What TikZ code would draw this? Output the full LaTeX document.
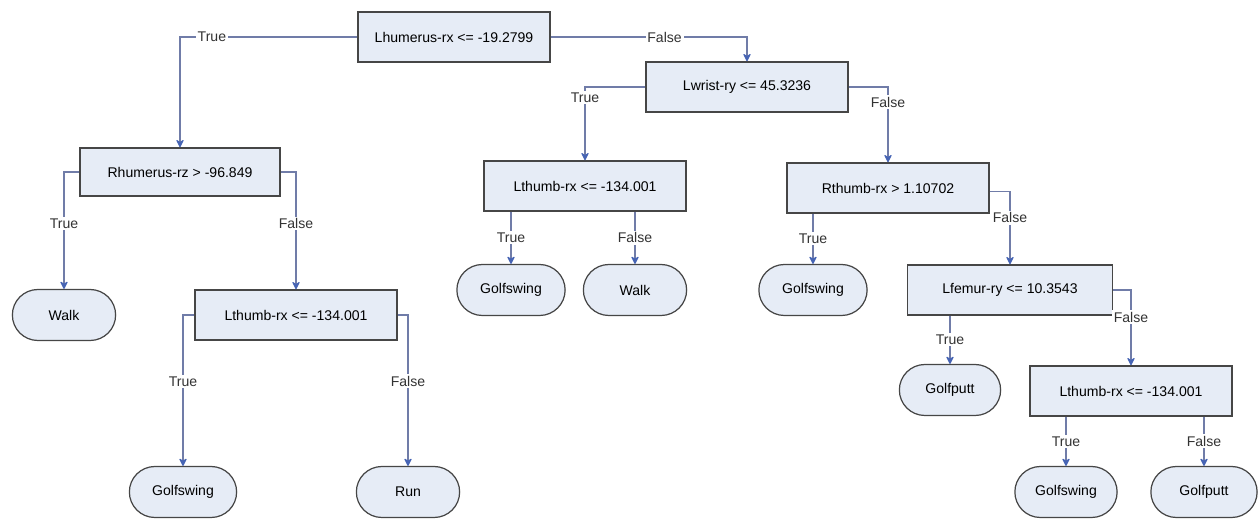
\documentclass[tikz,border=0pt]{standalone}
\usepackage{fontspec}
\setmainfont{Liberation Sans}
\usetikzlibrary{positioning,arrows.meta,shapes.misc}
\definecolor{boxfill}{RGB}{230,236,246}
\definecolor{boxline}{RGB}{70,70,70}
\definecolor{edgecol}{RGB}{112,124,168}
\definecolor{tipcol}{RGB}{70,100,180}

\begin{document}
\begin{tikzpicture}[x=0.02cm,y=-0.02cm,>={Stealth[round,length=5pt,width=5pt,color=tipcol]},
  font=\fontsize{8}{9.6}\selectfont,
  test/.style={rectangle,draw=boxline,line width=0.9pt,fill=boxfill,minimum width=4.04cm,minimum height=1cm},
  leaf/.style={rounded rectangle,draw=boxline,line width=0.7pt,fill=boxfill,minimum width=2.3cm,minimum height=1.02cm},
  cond/.style={fill=white,inner sep=1pt,text=black!80},
  link/.style={->,edgecol,line width=0.6pt}]
  \useasboundingbox (0,0) rectangle (1259,519);
  % decision nodes
  \node[test,minimum width=3.84cm] (root) at (454,37) {Lhumerus-rx <= -19.2799};
  \node[test] (lwrist) at (747,87) {Lwrist-ry <= 45.3236};
  \node[test,minimum width=4cm,minimum height=0.96cm] (rhum) at (180,172) {Rhumerus-rz > -96.849};
  \node[test] (lthumbA) at (296,315) {Lthumb-rx <= -134.001};
  \node[test] (lthumbB) at (585,186) {Lthumb-rx <= -134.001};
  \node[test] (rthumb) at (888,188) {Rthumb-rx > 1.10702};
  \node[test,minimum width=4.1cm] (lfemur) at (1010,290) {Lfemur-ry <= 10.3543};
  \node[test] (lthumbC) at (1131,391) {Lthumb-rx <= -134.001};
  % leaves
  \node[leaf] (walkA) at (64,315) {Walk};
  \node[leaf,minimum width=2.38cm] (golfA) at (183,492) {Golfswing};
  \node[leaf] (run) at (408,492) {Run};
  \node[leaf,minimum width=2.4cm] (golfB) at (511,290) {Golfswing};
  \node[leaf] (walkB) at (635,290) {Walk};
  \node[leaf,minimum width=2.4cm] (golfC) at (813,290) {Golfswing};
  \node[leaf,minimum width=2.26cm] (putA) at (950,390) {Golfputt};
  \node[leaf,minimum width=2.28cm] (golfD) at (1066,492) {Golfswing};
  \node[leaf,minimum width=2.36cm] (putB) at (1204,492) {Golfputt};
  % branches
  \draw[link] (root.west) -| node[cond,pos=0.41] (rootT) {True} (rhum.north);
  \draw[link] (root.east) -| node[cond,pos=0.29] (rootF) {False} (lwrist.north);
  \draw[link] (lwrist.west) -| node[cond,pos=0.5,yshift=-6] (lwristT) {True} (lthumbB.north);
  \draw[link] (lwrist.east) -| node[cond,pos=0.6] (lwristF) {False} (rthumb.north);
  \draw[link] (rhum.west) -| node[cond,pos=0.72] (rhumT) {True} (walkA.north);
  \draw[link] (rhum.east) -| node[cond,pos=0.72] (rhumF) {False} (lthumbA.north);
  \draw[link] (lthumbA.west) -| node[cond,pos=0.72] (lthumbAT) {True} (golfA.north);
  \draw[link] (lthumbA.east) -| node[cond,pos=0.72] (lthumbAF) {False} (run.north);
  \draw[link] (golfB.north |- lthumbB.south) -- node[cond] (lthumbBT) {True} (golfB.north);
  \draw[link] (walkB.north |- lthumbB.south) -- node[cond] (lthumbBF) {False} (walkB.north);
  \draw[link] (golfC.north |- rthumb.south) -- node[cond] (rthumbT) {True} (golfC.north);
  \draw[link] ([yshift=-2]rthumb.east) -| node[cond,pos=0.68] (rthumbF) {False} (lfemur.north);
  \draw[link] (putA.north |- lfemur.south) -- node[cond] (lfemurT) {True} (putA.north);
  \draw[link] (lfemur.east) -| node[cond,pos=0.68] (lfemurF) {False} (lthumbC.north);
  \draw[link] (golfD.north |- lthumbC.south) -- node[cond] (lthumbCT) {True} (golfD.north);
  \draw[link] (putB.north |- lthumbC.south) -- node[cond] (lthumbCF) {False} (putB.north);
\end{tikzpicture}
\end{document}
